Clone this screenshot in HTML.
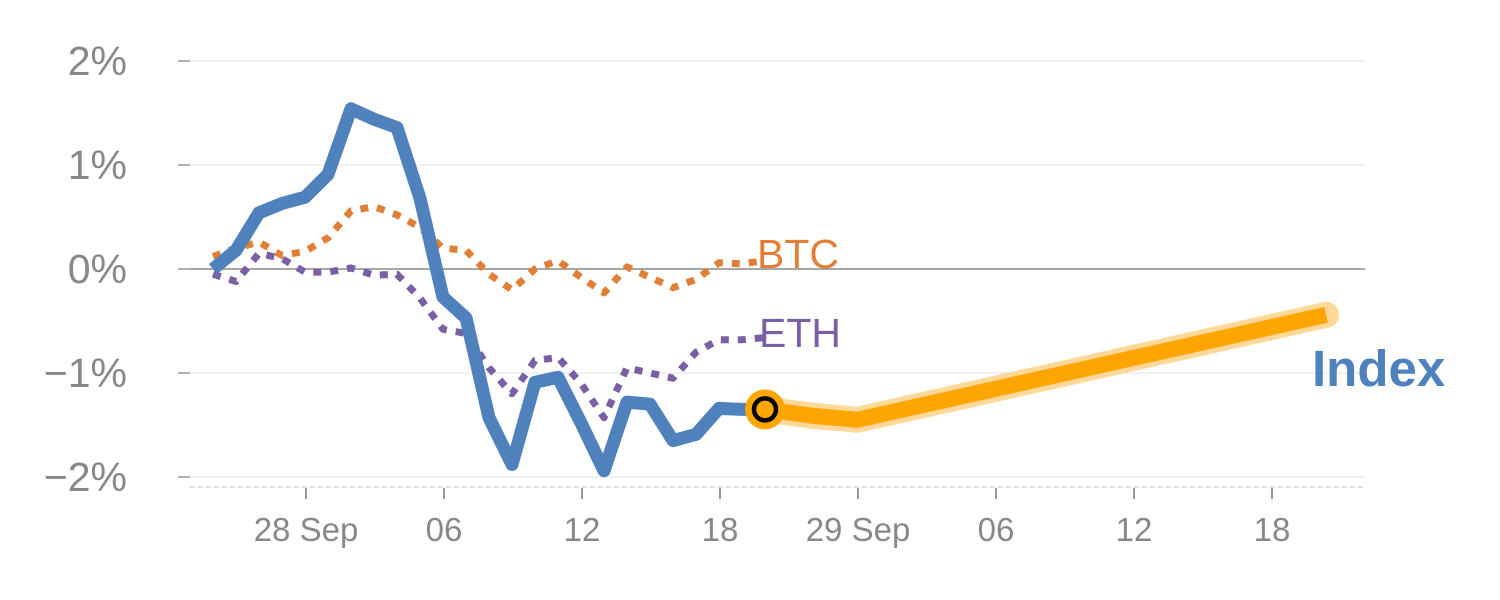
<!DOCTYPE html>
<html><head><meta charset="utf-8"><style>
html,body{margin:0;padding:0;background:#fff;}
svg{display:block;font-family:"Liberation Sans",sans-serif;}
</style></head><body>
<svg id="chart" width="1500" height="600" viewBox="0 0 1500 600"></svg>
<script>
const yTicks=[2,1,0,-1,-2];
const yTickLabels=["2%","1%","0%","\u22121%","\u22122%"];
const xTickHours=[0,6,12,18,24,30,36,42];
const xTickLabels=["28 Sep","06","12","18","29 Sep","06","12","18"];
const hours=[-4,-3,-2,-1,0,1,2,3,4,5,6,7,8,9,10,11,12,13,14,15,16,17,18,19,20];
const indexVals=[0,0.18,0.54,0.63,0.69,0.91,1.54,1.44,1.36,0.68,-0.27,-0.47,-1.43,-1.88,-1.09,-1.04,-1.48,-1.94,-1.28,-1.30,-1.65,-1.59,-1.34,-1.35,-1.35];
const btcVals=[0.12,0.2,0.26,0.13,0.17,0.3,0.56,0.6,0.52,0.4,0.2,0.18,-0.05,-0.2,0.0,0.08,-0.08,-0.23,0.02,-0.08,-0.18,-0.1,0.06,0.05,0.08];
const ethVals=[-0.05,-0.12,0.15,0.1,-0.03,-0.03,0.01,-0.06,-0.05,-0.28,-0.58,-0.62,-0.95,-1.2,-0.88,-0.85,-1.1,-1.43,-0.95,-1.0,-1.05,-0.8,-0.68,-0.68,-0.66];
const fcHours=[20,21,22,23,24,44.4];
const fcVals=[-1.35,-1.38,-1.41,-1.43,-1.45,-0.44];

const NS="http://www.w3.org/2000/svg";
const svg=document.getElementById('chart');
const X=h=>305+h*23;
const Y=v=>269-v*104;
function mk(tag,attrs,parent){const e=document.createElementNS(NS,tag);for(const k in attrs)e.setAttribute(k,attrs[k]);(parent||svg).appendChild(e);return e;}
const pts=(hs,vs)=>hs.map((h,i)=>X(h).toFixed(1)+","+Y(vs[i]).toFixed(1)).join(" ");
const XT=h=>306+h*23;

yTicks.forEach((t,i)=>{
  const g=mk('line',{x1:190,x2:1365,y1:Y(t),y2:Y(t),stroke:t===0?'#888':'#e3e3e3','stroke-width':t===0?1.5:1});
  
  
  const tk=mk('line',{x1:178,x2:190,y1:Y(t),y2:Y(t),stroke:'#999','stroke-width':1.5});
  
  
  const tx=mk('text',{x:127,y:Y(t)+14,'text-anchor':'end','font-size':41,fill:'#888'});
  tx.textContent=yTickLabels[i];
  
  
});
const ax=mk('line',{x1:190,x2:1365,y1:487,y2:487,stroke:'#ddd','stroke-width':2,'stroke-dasharray':'5 3'});


xTickHours.forEach((h,i)=>{
  const tk=mk('line',{x1:XT(h),x2:XT(h),y1:488,y2:499,stroke:'#999','stroke-width':2});
  
  
  const tx=mk('text',{x:XT(h),y:541,'text-anchor':'middle','font-size':33,fill:'#888'});
  tx.textContent=xTickLabels[i];
  
  
});
const btc=mk('polyline',{points:pts(hours,btcVals),fill:'none',stroke:'#e07f35','stroke-width':7,'stroke-dasharray':'8 9','stroke-linejoin':'round'});


const eth=mk('polyline',{points:pts(hours,ethVals),fill:'none',stroke:'#7b5fa4','stroke-width':7,'stroke-dasharray':'8 9','stroke-linejoin':'round'});


const idx=mk('polyline',{points:pts(hours,indexVals),fill:'none',stroke:'#4f81bd','stroke-width':13,'stroke-linejoin':'round'});


const band=mk('polyline',{points:pts(fcHours,fcVals),fill:'none',stroke:'#ffd89a','stroke-width':26,'stroke-linecap':'round','stroke-linejoin':'round'});


const fc=mk('polyline',{points:pts(fcHours,fcVals),fill:'none',stroke:'#ffa500','stroke-width':16,'stroke-linejoin':'round'});


const li=indexVals.length-1;
const c1=mk('circle',{cx:X(hours[li]),cy:Y(indexVals[li]),r:20,fill:'#ffa500'});


const c2=mk('circle',{cx:X(hours[li]),cy:Y(indexVals[li]),r:11,fill:'#ffa500',stroke:'#000','stroke-width':4.5});


function lbl(txt,x,y,size,color,weight,name){const t=mk('text',{x:x,y:y,'font-size':size,fill:color,'font-weight':weight});t.textContent=txt;

}
lbl('BTC',757,268,41,'#e07f35','normal','btc-label');
lbl('ETH',759,347,41,'#7b5fa4','normal','eth-label');
lbl('Index',1312,386,51,'#4f81bd','bold','index-label');
</script>
</body></html>
